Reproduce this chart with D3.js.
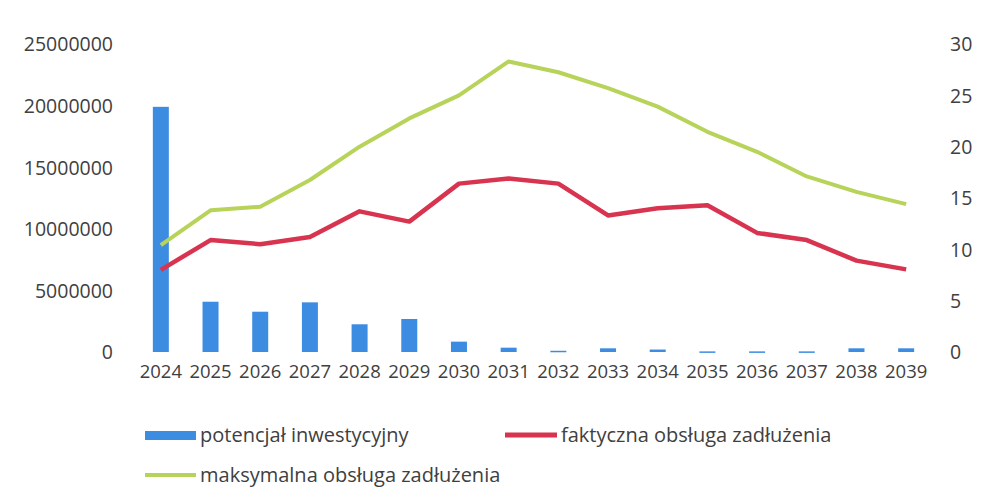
<!DOCTYPE html>
<html><head><meta charset="utf-8">
<script src="https://cdn.jsdelivr.net/npm/d3@7"></script>
<style>
body{margin:0;background:#fff;}
svg text{font-family:"Open Sans",sans-serif;fill:#404040;}
</style></head>
<body>
<svg id="c" width="984" height="488"></svg>
<script>
const years = ["2024","2025","2026","2027","2028","2029","2030","2031","2032","2033","2034","2035","2036","2037","2038","2039"];
const potencjal = [19900000,4080000,3270000,4030000,2250000,2680000,840000,350000,100000,300000,200000,50000,50000,50000,300000,300000];
const faktyczna = [8.0,10.9,10.5,11.2,13.7,12.7,16.4,16.9,16.4,13.3,14.0,14.3,11.6,10.9,8.9,8.05];
const maksymalna = [10.4,13.8,14.15,16.75,20.0,22.75,25.0,28.3,27.25,25.7,23.9,21.45,19.5,17.1,15.6,14.4];
const leftTicks = [0,5000000,10000000,15000000,20000000,25000000];
const rightTicks = [0,5,10,15,20,25,30];
const seriesNames = ["potencjał inwestycyjny","faktyczna obsługa zadłużenia","maksymalna obsługa zadłużenia"];

const svg = d3.select("#c");
const x = d3.scaleBand().domain(years).range([136,931]);
const yL = d3.scaleLinear().domain([0,25000000]).range([352,44]);
const yR = d3.scaleLinear().domain([0,30]).range([352,44]);

const cBlue="#3c8de2", cRed="#d8334f", cGreen="#b8d35a";

// left axis
const axL = svg.append("g").attr("transform","translate(113,0)")
  .call(d3.axisLeft(yL).tickValues(leftTicks).tickSize(0).tickPadding(0).tickFormat(d=>String(d)));
axL.select(".domain").remove();
axL.selectAll("text").style("font-size","19.5px").attr("dy","0.35em");

// right axis
const axR = svg.append("g").attr("transform","translate(950,0)")
  .call(d3.axisRight(yR).tickValues(rightTicks).tickSize(0).tickPadding(0));
axR.select(".domain").remove();
axR.selectAll("text").style("font-size","19.5px").attr("dy","0.35em");

// x axis
const axX = svg.append("g").attr("transform","translate(0,352)")
  .call(d3.axisBottom(x).tickSize(0).tickPadding(20));
axX.select(".domain").remove();
axX.selectAll("text").style("font-size","18.5px").attr("dy","0.35em");

// bars
const bw = 16;
svg.append("g").selectAll("rect").data(years).join("rect")
  .attr("x",d=>x(d)+x.bandwidth()/2-bw/2)
  .attr("width",bw)
  .attr("y",(d,i)=>yL(potencjal[i]))
  .attr("height",(d,i)=>Math.max(1.5,yL(0)-yL(potencjal[i])))
  .attr("fill",cBlue);

// lines
const line = arr => d3.line().x((d,i)=>x(years[i])+x.bandwidth()/2).y(d=>yR(d))(arr);
svg.append("path").attr("d",line(maksymalna)).attr("fill","none").attr("stroke",cGreen).attr("stroke-width",4).attr("stroke-linejoin","round");
svg.append("path").attr("d",line(faktyczna)).attr("fill","none").attr("stroke",cRed).attr("stroke-width",4.5).attr("stroke-linejoin","round");

// legend
const lg = svg.append("g");
lg.append("rect").attr("x",145).attr("y",431).attr("width",51).attr("height",9).attr("fill",cBlue);
lg.append("text").attr("x",200).attr("y",435).attr("dy","0.35em").style("font-size","20px").text(seriesNames[0]);
lg.append("line").attr("x1",505).attr("x2",557).attr("y1",435).attr("y2",435).attr("stroke",cRed).attr("stroke-width",5);
lg.append("text").attr("x",561).attr("y",435).attr("dy","0.35em").style("font-size","20px").text(seriesNames[1]);
lg.append("line").attr("x1",145).attr("x2",196).attr("y1",475).attr("y2",475).attr("stroke",cGreen).attr("stroke-width",4);
lg.append("text").attr("x",200).attr("y",475).attr("dy","0.35em").style("font-size","20px").text(seriesNames[2]);
</script>
</body></html>
